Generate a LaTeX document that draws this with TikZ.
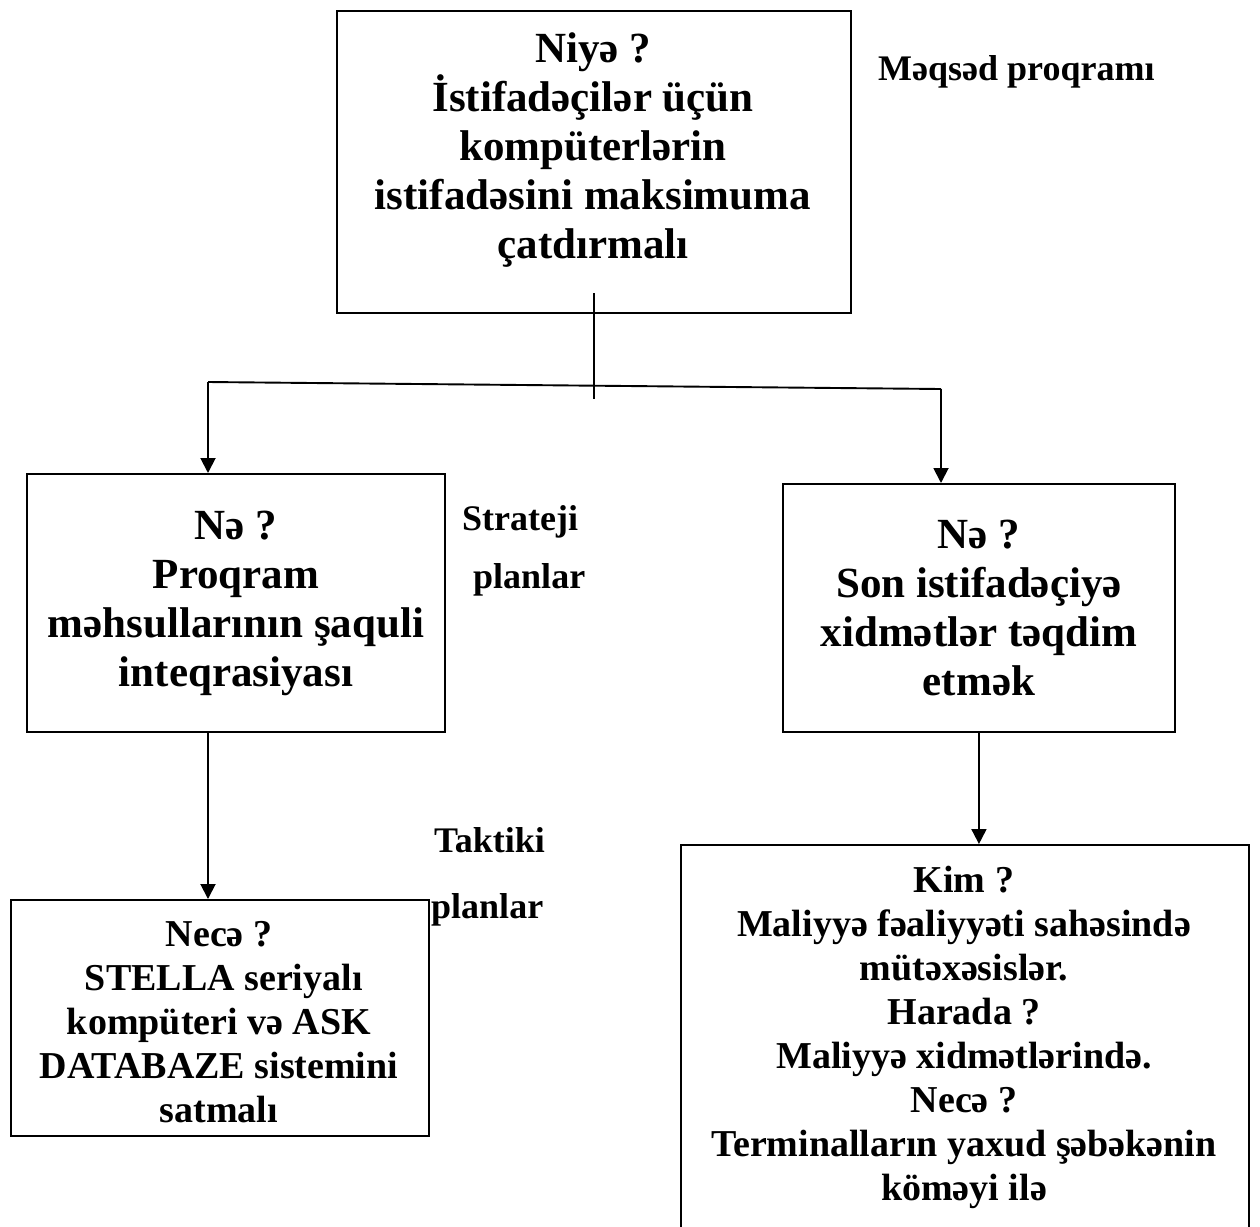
\documentclass[tikz,border=0pt]{standalone}
\usepackage{fontspec}
\setmainfont{Liberation Serif}
\usetikzlibrary{arrows.meta}
\begin{document}
\begin{tikzpicture}[x=1bp,y=-1bp,
  frame/.style={draw, line width=1.9bp, inner sep=0pt, anchor=north west},
  bigtxt/.style={align=center, inner sep=0pt, font=\bfseries\fontsize{43bp}{49bp}\selectfont},
  txt/.style={align=center, inner sep=0pt, font=\bfseries\fontsize{38bp}{44bp}\selectfont},
  side/.style={align=left, inner sep=0pt, anchor=west, font=\bfseries\fontsize{36bp}{40bp}\selectfont},
  link/.style={line width=1.9bp},
  arr/.style={line width=1.9bp, -{Triangle[length=15bp,width=15bp]}}]
\useasboundingbox (0,0) rectangle (1260,1227);
\clip (0,0) rectangle (1260,1227);

% frames
\node[frame, minimum width=514bp, minimum height=302bp] (goalbox) at (336,10) {};
\node[frame, minimum width=418bp, minimum height=258bp] (whatL) at (26,473) {};
\node[frame, minimum width=392bp, minimum height=248bp] (whatR) at (782,483) {};
\node[frame, minimum width=418bp, minimum height=236bp] (howL) at (10,899) {};
\node[frame, minimum width=568bp, minimum height=450bp] (whoR) at (680,844) {};

% box texts
\node[bigtxt, anchor=north] (t1) at (593,32) {Niyə ?\\İstifadəçilər üçün\\kompüterlərin\\istifadəsini maksimuma\\çatdırmalı};
\node[bigtxt] (t2) at (whatL.center) {Nə ?\\Proqram\\məhsullarının şaquli\\inteqrasiyası};
\node[bigtxt] (t3) at (whatR.center) {Nə ?\\Son istifadəçiyə\\xidmətlər təqdim\\etmək};
\node[txt, anchor=north] (t4) at (219,921) {Necə ?\\\ STELLA seriyalı\\kompüteri və ASK\\DATABAZE sistemini\\satmalı};
\node[txt, anchor=north, text depth=0pt] (t5) at (964,866) {Kim ?\\Maliyyə fəaliyyəti sahəsində\\mütəxəsislər.\\Harada ?\\Maliyyə xidmətlərində.\\Necə ?\\Terminalların yaxud şəbəkənin\\köməyi ilə};

% side labels
\node[side] (lgoal) at (878,72) {Məqsəd proqramı};
\node[side] (lstr1) at (462,522) {Strateji};
\node[side] (lstr2) at (473,580) {planlar};
\node[side] (ltak1) at (434,840) {Taktiki};
\node[side] (ltak2) at (431,910) {planlar};

% connectors
\coordinate (stemtop) at (594,293);
\coordinate (stembot) at (594,399);
\coordinate (jl) at (208,382);
\coordinate (jr) at (941,389);
\draw[link] (stemtop) -- (stembot);
\draw[link] (jl) -- (jr);
\draw[arr] (jl) -- (jl |- whatL.north);
\draw[arr] (jr) -- (jr |- whatR.north);
\draw[arr] (whatL.south -| jl) -- (jl |- howL.north);
\draw[arr] (whatR.south) -- (whatR.south |- whoR.north);
\end{tikzpicture}
\end{document}
